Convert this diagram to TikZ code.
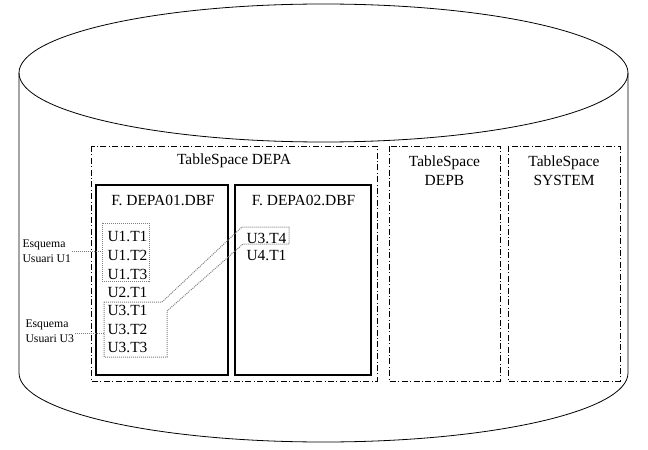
\documentclass[tikz,border=0pt]{standalone}
\usepackage{fontspec}
\setmainfont{Liberation Serif}
\usetikzlibrary{positioning}

\begin{document}
\begin{tikzpicture}[x=0.75pt,y=-0.75pt,line width=0.75pt,
  tspace/.style={draw,dash pattern=on 4.5pt off 1.8pt on 0.75pt off 1.8pt},
  fbox/.style={draw,line width=0.8pt},
  grp/.style={draw=gray,dash pattern=on 0.75pt off 0.75pt},
  txt/.style={font=\fontsize{11.6}{14.25}\selectfont,inner sep=0pt},
  esq/.style={font=\fontsize{8.8}{11.25}\selectfont,align=left,inner sep=0pt}]
  \useasboundingbox (0,0) rectangle (648,449);
  % disk
  \draw[line width=0.6pt] (323.5,73) ellipse [x radius=304.5,y radius=69];
  \draw[line width=0.6pt] (19,73) -- (19,373) arc[start angle=180,end angle=0,x radius=304.5,y radius=69] -- (628,73);

  % tablespaces
  \draw[tspace] (91,146) rectangle (377,381);
  \draw[tspace] (389,146) rectangle (500,381);
  \draw[tspace] (508,146) rectangle (620,381);
  \node[txt] (tsdepa) at (234,161) {TableSpace DEPA};
  \node[txt,align=center] (tsdepb) at (444.5,171) {TableSpace\\DEPB};
  \node[txt,align=center] (tssys) at (564,171) {TableSpace\\SYSTEM};

  % files
  \draw[fbox] (96,185) rectangle (228,375);
  \draw[fbox] (235,185) rectangle (371,375);
  \node[txt] (fdepa1) at (163,200) {F. DEPA01.DBF};
  \node[txt] (fdepa2) at (303.5,200) {F. DEPA02.DBF};

  % tables
  \foreach \t/\y [count=\i] in {U1.T1/237,U1.T2/255,U1.T3/274,U2.T1/292,U3.T1/310,U3.T2/329,U3.T3/347}
    \node[txt,anchor=west] (ta\i) at (107,\y) {\t};
  \node[txt,anchor=west] (tb1) at (246,238) {U3.T4};
  \node[txt,anchor=west] (tb2) at (246,256) {U4.T1};

  % schemas
  \node[esq,anchor=west] (esqu1) at (22,251) {Esquema\\Usuari U1};
  \node[esq,anchor=west] (esqu3) at (25,331) {Esquema\\Usuari U3};
  \draw[grp] (102,223) rectangle (149,281);
  \coordinate (grpu1) at (102,251);
  \draw[grp] (104,302) -- (162,302) -- (242,227) -- (289,227) -- (289,244) -- (243,244)
    -- (167,311) -- (167,357) -- (104,357) -- cycle;
  \coordinate (grpu3) at (104,333);
  \draw[grp] (esqu1.east |- grpu1) -- (grpu1);
  \draw[grp] (esqu3.east |- grpu3) -- (grpu3);
\end{tikzpicture}
\end{document}
